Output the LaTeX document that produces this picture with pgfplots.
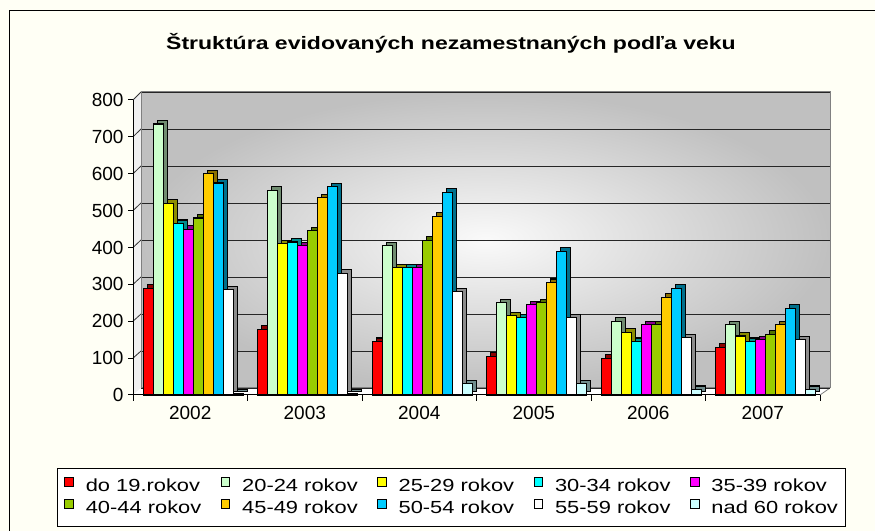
\documentclass[border=0pt]{standalone}
\usepackage{pgfplots}
\pgfplotsset{compat=1.18}
\usepackage{pgfplotstable}
\usepackage{fontspec}
\setmainfont{Liberation Sans}
\newfontfamily\legfont{Liberation Sans}[FakeStretch=1.25]
\newfontfamily\titfont{Liberation Sans}[FakeStretch=1.28]
\definecolor{cA}{HTML}{FF0000}
\definecolor{cB}{HTML}{CCFFCC}
\definecolor{cC}{HTML}{FFFF00}
\definecolor{cD}{HTML}{00FFFF}
\definecolor{cE}{HTML}{FF00FF}
\definecolor{cF}{HTML}{99CC00}
\definecolor{cG}{HTML}{FFCC00}
\definecolor{cH}{HTML}{00CCFF}
\definecolor{cI}{HTML}{FFFFFF}
\definecolor{cJ}{HTML}{CCFFFF}
\definecolor{bgc}{HTML}{FFFFF5}
\definecolor{wallc}{HTML}{C0C0C0}
\pgfplotstableread{
x a b c d e f g h i j
0 290 735 520 465 450 480 600 575 285 5
1 178 555 410 415 405 445 535 565 330 5
2 145 405 345 345 345 420 485 550 280 30
3 105 250 215 210 245 250 305 390 210 30
4 100 200 170 145 190 190 265 290 155 15
5 130 190 160 145 150 165 190 235 150 15
}\data
\newcommand{\lt}[1]{\makebox[135bp][l]{#1}}
\begin{document}
\begin{tikzpicture}[x=1bp,y=1bp]
\useasboundingbox (0,0) rectangle (875,531);
\fill[bgc] (0,0) rectangle (875,531);
\draw[black,line width=1bp] (9,0) -- (9,520.5) -- (875,520.5);
% title
\node[font={\titfont\bfseries\fontsize{18bp}{21bp}\selectfont}] at (451,488) {Štruktúra evidovaných nezamestnaných podľa veku};
% left wall and floor
\fill[gray!12] (133,136) -- (141,143) -- (141,439) -- (133,431) -- cycle;
\fill[white] (133,136) -- (820,136) -- (830,143) -- (141,143) -- cycle;
\draw[gray,line width=0.8bp] (820,136) -- (830,143);
\foreach \k in {1,...,8} {
  \draw[black!80,line width=0.8bp] (133,136+\k*36.875) -- (141,143+\k*37);
}
% back wall
\begin{axis}[
  at={(141bp,143bp)}, anchor=south west,
  scale only axis, width=689bp, height=296bp,
  xmin=0, xmax=1, ymin=0, ymax=800,
  ytick={0,100,...,800}, xtick=\empty,
  yticklabels={}, major tick length=0pt,
  ymajorgrids, major grid style={black!85,line width=0.8bp},
  axis line style={gray,line width=1bp},
  axis background/.style={inner color=white!92!wallc, outer color=wallc},
]
\addplot[draw=none] coordinates {(0,0)};
\end{axis}
% front axis with bars
\begin{axis}[
  at={(133bp,136bp)}, anchor=south west,
  scale only axis, width=687bp, height=295bp,
  xmin=-0.5, xmax=5.5, ymin=0, ymax=800,
  axis x line*=bottom, axis y line*=left,
  axis line style={black,line width=1bp},
  ytick={0,100,...,800},
  xtick={0,...,5}, xticklabels={2002,2003,2004,2005,2006,2007},
  minor xtick={-0.5,0.5,...,5.5},
  tick align=outside,
  x tick style={draw=none},
  minor x tick style={draw=black,line width=1bp},
  minor tick length=6bp,
  y tick style={black,line width=1bp},
  major tick length=5bp,
  /pgf/number format/assume math mode=true,
  tick label style={font=\fontsize{19bp}{22bp}\selectfont},
  xticklabel style={yshift=-3bp},
  yticklabel style={xshift=-1bp},
  ybar, bar width=10bp,
  clip=false,
  legend columns=5,
  legend cell align=left,
  legend style={at={(-0.1106,-0.2475)}, anchor=north west,
    draw=black, line width=0.8bp, fill=white,
    font={\legfont\fontsize{17.5bp}{20bp}\selectfont},
    inner xsep=7bp, inner ysep=9bp, row sep=4bp,
    nodes={inner sep=0pt, text height=12.5bp, text depth=3.5bp},
    /tikz/every odd column/.append style={column sep=12bp},
    /tikz/every even column/.append style={column sep=0bp}},
  legend image code/.code={\draw[line width=0.9bp,fill=#1] (0bp,1bp) rectangle (8.5bp,9.5bp);},
]
\def\bars#1#2#3{%
  \addplot[forget plot, fill=#2!55!black, draw=black, line width=1.1bp, bar shift=#3bp, xshift=4bp, yshift=3.5bp] table[x=x,y=#1] {\data};
  \addplot[fill=#2, draw=black, line width=1.1bp, bar shift=#3bp] table[x=x,y=#1] {\data};
}
\bars{a}{cA}{-42}
\bars{b}{cB}{-32}
\bars{c}{cC}{-22}
\bars{d}{cD}{-12}
\bars{e}{cE}{-2}
\bars{f}{cF}{8}
\bars{g}{cG}{18}
\bars{h}{cH}{28}
\bars{i}{cI}{38}
\bars{j}{cJ}{48}
\legend{\lt{do 19.rokov},\lt{20-24 rokov},\lt{25-29 rokov},\lt{30-34 rokov},35-39 rokov,\lt{40-44 rokov},\lt{45-49 rokov},\lt{50-54 rokov},\lt{55-59 rokov},nad 60 rokov}
\end{axis}
\end{tikzpicture}
\end{document}
